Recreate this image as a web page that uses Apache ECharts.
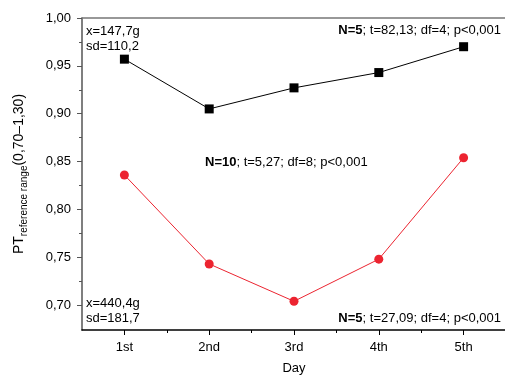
<!DOCTYPE html>
<html>
<head>
<meta charset="utf-8">
<script src="https://cdn.jsdelivr.net/npm/echarts@6/dist/echarts.min.js"></script>
<style>html,body{margin:0;padding:0;background:#fff;width:505px;height:378px;overflow:hidden;}#c{width:505px;height:378px;}</style>
</head>
<body>
<div id="c"></div>
<script>
const days = ['1st', '2nd', '3rd', '4th', '5th'];
const groupTop = [0.957, 0.905, 0.927, 0.943, 0.970];
const groupBottom = [0.836, 0.743, 0.704, 0.748, 0.854];
const yTickValues = [0.70, 0.75, 0.80, 0.85, 0.90, 0.95, 1.00];
const yMinorValues = [0.725, 0.775, 0.825, 0.875, 0.925, 0.975];
const xMinorValues = [1.5, 2.5, 3.5, 4.5];
const topStats = ['N=5', '; t=82,13; df=4; p<0,001'];
const midStats = ['N=10', '; t=5,27; df=8; p<0,001'];
const bottomStats = ['N=5', '; t=27,09; df=4; p<0,001'];
const topInfo = ['x=147,7g', 'sd=110,2'];
const bottomInfo = ['x=440,4g', 'sd=181,7'];

const FONT = '"Liberation Sans", Arial, sans-serif';
const chart = echarts.init(document.getElementById('c'), null, {renderer: 'canvas', width: 505, height: 378});
const dayIdx = days.map((d, i) => i + 1);
const fmt = v => v.toFixed(2).replace('.', ',');

function statText(parts, x, y, align) {
  return {
    type: 'text', x: x, y: y,
    style: {
      text: '{b|' + parts[0] + '}{n|' + parts[1] + '}',
      rich: {
        b: {fontFamily: FONT, fontSize: 13, fontWeight: 'bold', fill: '#000'},
        n: {fontFamily: FONT, fontSize: 13, fill: '#000'}
      },
      textAlign: align, textVerticalAlign: 'middle'
    }
  };
}
function plainText(t, x, y) {
  return {type: 'text', x: x, y: y,
    style: {text: t, fontFamily: FONT, fontSize: 13, fill: '#000', textAlign: 'left', textVerticalAlign: 'middle'}};
}

const option = {
  animation: false,
  backgroundColor: '#fff',
  grid: {left: 82, top: 18, width: 424, height: 312, containLabel: false, outerBoundsMode: 'none'},
  xAxis: [
    {
      type: 'value', min: 0.5, max: 5.5,
      name: 'Day', nameLocation: 'middle', nameGap: 32,
      nameTextStyle: {fontFamily: FONT, fontSize: 13, color: '#000'},
      axisLine: {show: true, onZero: false, lineStyle: {color: '#000', width: 1.5}},
      axisTick: {show: true, inside: false, length: 5, lineStyle: {color: '#000', width: 1}, customValues: dayIdx},
      axisLabel: {show: true, margin: 11, fontFamily: FONT, fontSize: 13, color: '#000',
        customValues: dayIdx, formatter: v => days[Math.round(v) - 1]},
      splitLine: {show: false}
    },
    {
      type: 'value', min: 0.5, max: 5.5, position: 'bottom',
      axisLine: {show: false},
      axisTick: {show: true, length: 3, lineStyle: {color: '#000', width: 1}, customValues: xMinorValues},
      axisLabel: {show: false}, splitLine: {show: false}
    },
    {
      type: 'value', min: 0.5, max: 5.5, position: 'top',
      axisLine: {show: true, onZero: false, lineStyle: {color: '#777', width: 1.5}},
      axisTick: {show: false}, axisLabel: {show: false}, splitLine: {show: false}
    }
  ],
  yAxis: [
    {
      type: 'value', min: 0.674, max: 1.0,
      name: '{a|PT}{s|reference range}{a|(0,70–1,30)}',
      nameLocation: 'middle', nameGap: 56,
      nameTextStyle: {
        rich: {
          a: {fontFamily: FONT, fontSize: 14, color: '#000', lineHeight: 18, verticalAlign: 'bottom'},
          s: {fontFamily: FONT, fontSize: 10, color: '#000', lineHeight: 18, verticalAlign: 'bottom', padding: [0, 0, -3, 0]}
        }
      },
      axisLine: {show: true, onZero: false, lineStyle: {color: '#555', width: 1.5}},
      axisTick: {show: true, inside: false, length: 5, lineStyle: {color: '#555', width: 1}, customValues: yTickValues},
      axisLabel: {show: true, margin: 11, fontFamily: FONT, fontSize: 13, color: '#000',
        customValues: yTickValues, formatter: v => fmt(v)},
      splitLine: {show: false}
    },
    {
      type: 'value', min: 0.674, max: 1.0, position: 'left',
      axisLine: {show: false},
      axisTick: {show: true, length: 3, lineStyle: {color: '#555', width: 1}, customValues: yMinorValues},
      axisLabel: {show: false}, splitLine: {show: false}
    }
  ],
  series: [
    {
      type: 'line', xAxisIndex: 0, yAxisIndex: 0,
      data: groupTop.map((v, i) => [dayIdx[i], v]),
      symbol: 'rect', symbolSize: 9,
      itemStyle: {color: '#000'},
      lineStyle: {color: '#000', width: 1}
    },
    {
      type: 'line', xAxisIndex: 0, yAxisIndex: 0,
      data: groupBottom.map((v, i) => [dayIdx[i], v]),
      symbol: 'circle', symbolSize: 9,
      itemStyle: {color: '#ec2430'},
      lineStyle: {color: '#ec2430', width: 1}
    }
  ],
  graphic: [
    plainText(topInfo[0], 86, 31),
    plainText(topInfo[1], 86, 46),
    plainText(bottomInfo[0], 86, 303),
    plainText(bottomInfo[1], 86, 318),
    statText(topStats, 501, 30, 'right'),
    statText(midStats, 205, 162, 'left'),
    statText(bottomStats, 501, 318, 'right')
  ]
};
chart.setOption(option);
</script>
</body>
</html>
